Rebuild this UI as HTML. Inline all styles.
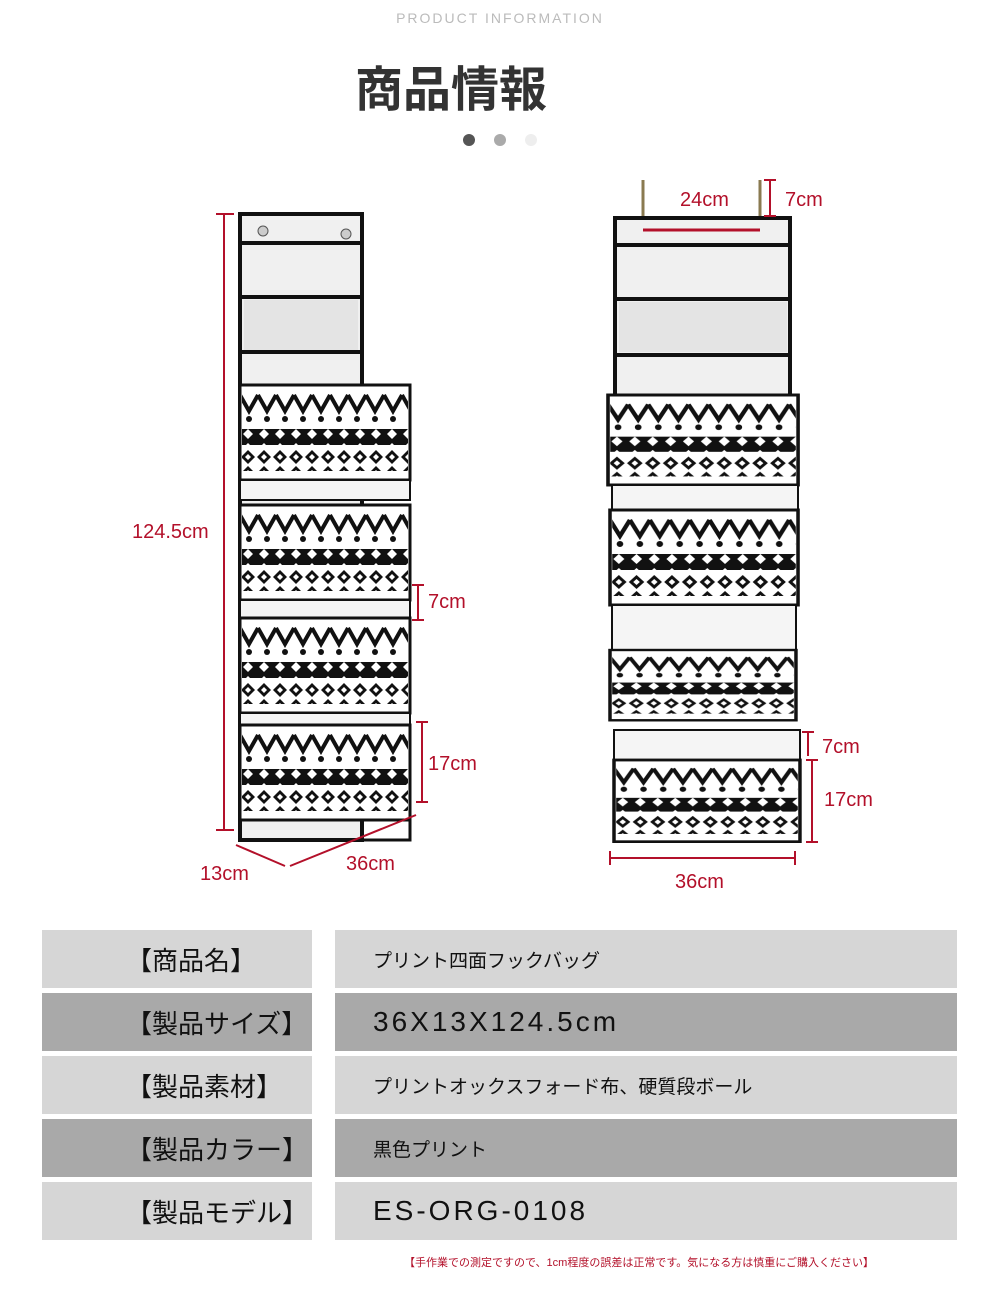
<!DOCTYPE html>
<html><head><meta charset="utf-8"><style>
body{margin:0;width:1000px;height:1300px;background:#fff;position:relative;overflow:hidden;font-family:"Liberation Sans","Noto Sans CJK JP",sans-serif}
.cell{position:absolute;display:flex;align-items:center;box-sizing:border-box}
.l{left:42px;width:270px;justify-content:flex-start;padding-left:84px;font-size:26px;color:#111}
.r{left:335px;width:622px;padding-left:38px;color:#111}
.a{background:#d6d6d6}.b{background:#a9a9a9}
</style></head><body>
<div style="position:absolute;top:10px;left:0;width:1000px;text-align:center;font-size:14px;letter-spacing:2px;color:#bbb">PRODUCT INFORMATION</div>
<div style="position:absolute;top:50px;left:355px;font-size:48px;font-weight:bold;color:#333;font-family:'Noto Sans CJK JP',sans-serif">商品情報</div>
<div style="position:absolute;top:134px;left:463px;width:12px;height:12px;border-radius:6px;background:#555"></div>
<div style="position:absolute;top:134px;left:494px;width:12px;height:12px;border-radius:6px;background:#aaa"></div>
<div style="position:absolute;top:134px;left:525px;width:12px;height:12px;border-radius:6px;background:#eee"></div>
<svg width="1000" height="910" style="position:absolute;left:0;top:0" font-family="Liberation Sans, sans-serif">
<defs>
<pattern id="zig" width="18" height="30" patternUnits="userSpaceOnUse"><rect width="18" height="30" fill="#fff"/><circle cx="9" cy="4" r="3" fill="#111"/><polyline points="0,10 9,26 18,10" fill="none" stroke="#111" stroke-width="4"/></pattern>
<pattern id="dia" width="16" height="16" patternUnits="userSpaceOnUse"><rect width="16" height="16" fill="#fff"/><polygon points="8,1 15,8 8,15 1,8" fill="#111"/><polygon points="8,5 11,8 8,11 5,8" fill="#fff"/></pattern>
<pattern id="dia2" width="16" height="14" patternUnits="userSpaceOnUse"><rect width="16" height="14" fill="#111"/><polygon points="8,2 13,7 8,12 3,7" fill="#fff"/></pattern>
<g id="bask">
<rect x="0" y="0" width="170" height="95" fill="#fff" stroke="#111" stroke-width="3"/>
<rect x="2" y="8" width="166" height="30" fill="url(#zig)"/>
<rect x="2" y="44" width="166" height="16" fill="url(#dia2)"/>
<rect x="2" y="64" width="166" height="22" fill="url(#dia)"/>
<rect x="0" y="0" width="170" height="95" fill="none" stroke="#111" stroke-width="3"/>
</g>
</defs>
<!-- left organizer -->
<rect x="240" y="214" width="122" height="626" fill="#f0f0f0" stroke="#111" stroke-width="4"/>
<line x1="240" y1="243" x2="362" y2="243" stroke="#111" stroke-width="4"/>
<line x1="240" y1="297" x2="362" y2="297" stroke="#111" stroke-width="4"/>
<line x1="240" y1="352" x2="362" y2="352" stroke="#111" stroke-width="4"/>
<rect x="244" y="300" width="114" height="50" fill="#e4e4e4"/>
<circle cx="263" cy="231" r="5" fill="#ccc" stroke="#555"/><circle cx="346" cy="234" r="5" fill="#ccc" stroke="#555"/>
<use href="#bask" x="240" y="385"/>
<rect x="240" y="480" width="170" height="20" fill="#f5f5f5" stroke="#111" stroke-width="2"/>
<use href="#bask" x="240" y="505"/>
<rect x="240" y="600" width="170" height="20" fill="#f5f5f5" stroke="#111" stroke-width="2"/>
<use href="#bask" x="240" y="618"/>
<rect x="240" y="713" width="170" height="12" fill="#f5f5f5" stroke="#111" stroke-width="2"/>
<use href="#bask" x="240" y="725"/>
<rect x="240" y="725" width="170" height="115" fill="none" stroke="#111" stroke-width="3"/>
<!-- left dims -->
<g stroke="#b3102a" stroke-width="2" fill="none">
<line x1="224" y1="214" x2="224" y2="830"/><line x1="216" y1="214" x2="234" y2="214"/><line x1="216" y1="830" x2="234" y2="830"/>
<line x1="418" y1="585" x2="418" y2="620"/><line x1="412" y1="585" x2="424" y2="585"/><line x1="412" y1="620" x2="424" y2="620"/>
<line x1="422" y1="722" x2="422" y2="802"/><line x1="416" y1="722" x2="428" y2="722"/><line x1="416" y1="802" x2="428" y2="802"/>
<line x1="290" y1="866" x2="416" y2="815"/><line x1="236" y1="845" x2="285" y2="866"/>
</g>
<g fill="#b3102a" font-size="20">
<text x="132" y="538">124.5cm</text><text x="428" y="608">7cm</text><text x="428" y="770">17cm</text>
<text x="346" y="870">36cm</text><text x="200" y="880">13cm</text>
</g>
<!-- right organizer -->
<line x1="643" y1="180" x2="643" y2="232" stroke="#8a7a50" stroke-width="3"/>
<line x1="760" y1="180" x2="760" y2="232" stroke="#8a7a50" stroke-width="3"/>
<rect x="615" y="218" width="175" height="190" fill="#f0f0f0" stroke="#111" stroke-width="4"/>
<line x1="615" y1="245" x2="790" y2="245" stroke="#111" stroke-width="4"/>
<line x1="615" y1="299" x2="790" y2="299" stroke="#111" stroke-width="4"/>
<line x1="615" y1="355" x2="790" y2="355" stroke="#111" stroke-width="4"/>
<rect x="619" y="302" width="168" height="50" fill="#e4e4e4"/>
<use href="#bask" transform="translate(608,395) scale(1.118,0.947)"/>
<rect x="612" y="485" width="186" height="25" fill="#f5f5f5" stroke="#111" stroke-width="2"/>
<use href="#bask" transform="translate(610,510) scale(1.106,1)"/>
<rect x="612" y="605" width="184" height="45" fill="#f5f5f5" stroke="#111" stroke-width="2"/>
<use href="#bask" transform="translate(610,650) scale(1.094,0.74)"/>
<rect x="614" y="730" width="186" height="30" fill="#f5f5f5" stroke="#111" stroke-width="2"/>
<use href="#bask" transform="translate(614,760) scale(1.094,0.86)"/>
<g stroke="#b3102a" stroke-width="2" fill="none">
<line x1="643" y1="230" x2="760" y2="230" stroke-width="3"/>
<line x1="770" y1="180" x2="770" y2="216"/><line x1="764" y1="180" x2="776" y2="180"/><line x1="764" y1="216" x2="776" y2="216"/>
<line x1="808" y1="732" x2="808" y2="756"/><line x1="802" y1="732" x2="814" y2="732"/>
<line x1="812" y1="760" x2="812" y2="842"/><line x1="806" y1="760" x2="818" y2="760"/><line x1="806" y1="842" x2="818" y2="842"/>
<line x1="610" y1="858" x2="795" y2="858"/><line x1="610" y1="851" x2="610" y2="865"/><line x1="795" y1="851" x2="795" y2="865"/>
</g>
<g fill="#b3102a" font-size="20">
<text x="680" y="206">24cm</text><text x="785" y="206">7cm</text>
<text x="822" y="753">7cm</text><text x="824" y="806">17cm</text><text x="675" y="888">36cm</text>
</g>
</svg>
<div class="cell l a" style="top:930px;height:58px">【商品名】</div>
<div class="cell r a" style="top:930px;height:58px;font-size:19px">プリント四面フックバッグ</div>
<div class="cell l b" style="top:993px;height:58px">【製品サイズ】</div>
<div class="cell r b" style="top:993px;height:58px;font-size:28px;letter-spacing:3px">36X13X124.5cm</div>
<div class="cell l a" style="top:1056px;height:58px">【製品素材】</div>
<div class="cell r a" style="top:1056px;height:58px;font-size:19px">プリントオックスフォード布、硬質段ボール</div>
<div class="cell l b" style="top:1119px;height:58px">【製品カラー】</div>
<div class="cell r b" style="top:1119px;height:58px;font-size:19px">黒色プリント</div>
<div class="cell l a" style="top:1182px;height:58px">【製品モデル】</div>
<div class="cell r a" style="top:1182px;height:58px;font-size:28px;letter-spacing:3px">ES-ORG-0108</div>
<div style="position:absolute;top:1254px;left:404px;font-size:11px;color:#b3102a;white-space:nowrap">【手作業での測定ですので、1cm程度の誤差は正常です。気になる方は慎重にご購入ください】</div>
</body></html>
